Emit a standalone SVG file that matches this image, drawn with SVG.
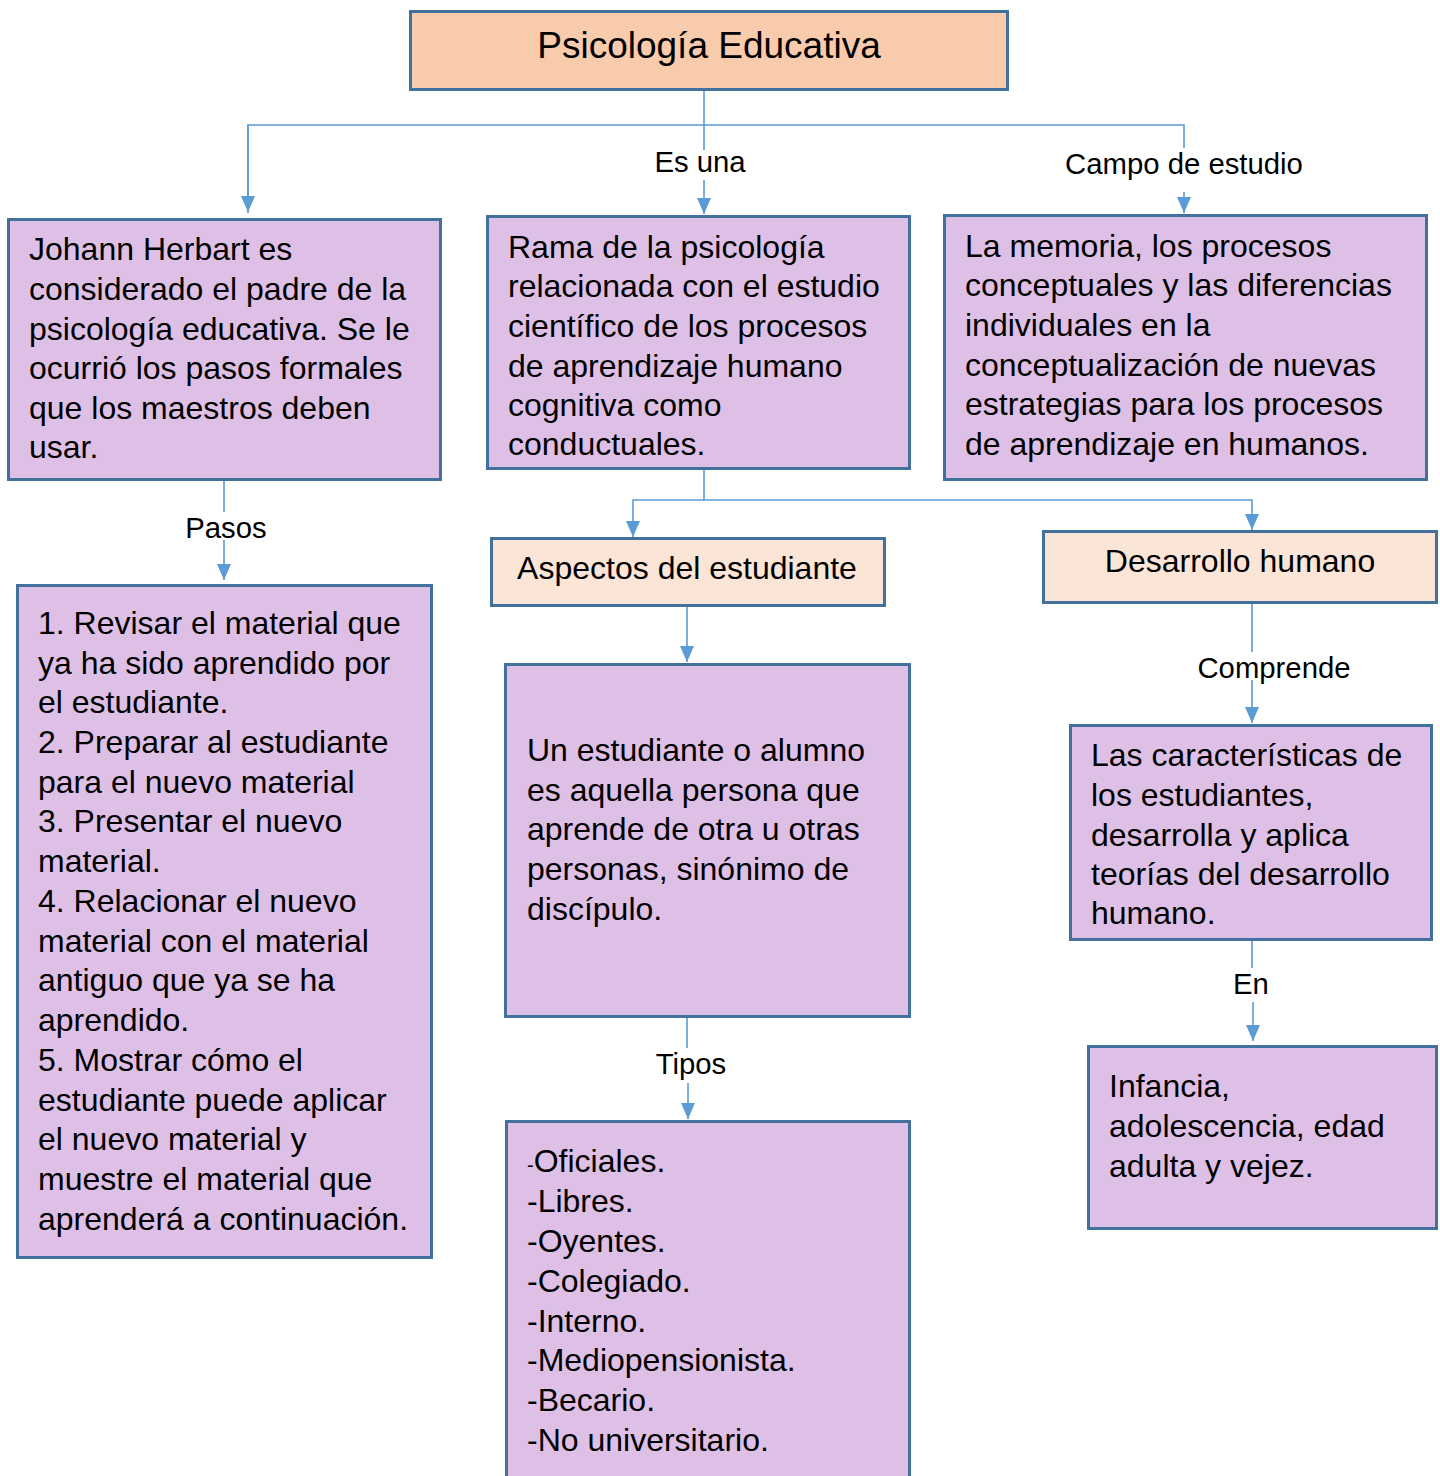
<svg xmlns="http://www.w3.org/2000/svg" width="1440" height="1476" viewBox="0 0 1440 1476">
<style>
.box{fill:#DEC0E7;stroke:#41719C;stroke-width:3}
.hdr{fill:#F8CBAD;stroke:#41719C;stroke-width:3}
.sub{fill:#FBE5D6;stroke:#41719C;stroke-width:3}
.t{font-family:"Liberation Sans",Arial,sans-serif;font-size:32px;fill:#000}
.lbl{font-family:"Liberation Sans",Arial,sans-serif;font-size:29.3px;fill:#000;text-anchor:middle}
.c{fill:none;stroke:#5B9BD5;stroke-width:1.6}
</style>
<defs>
<marker id="ah" viewBox="0 0 16 14" refX="16" refY="7" markerWidth="16" markerHeight="14" markerUnits="userSpaceOnUse" orient="auto">
<path d="M0,0 L16,7 L0,14 z" fill="#5B9BD5"/>
</marker>
</defs>
<rect width="1440" height="1476" fill="#fff"/>
<g id="connectors">
<path class="c" d="M704,89 V150"/>
<path class="c" d="M704,180 V214" marker-end="url(#ah)"/>
<path class="c" d="M248,213 V125 H1184 V148"/>
<path class="c" d="M248,125 V212" marker-end="url(#ah)"/>
<path class="c" d="M1184,192 V213" marker-end="url(#ah)"/>
<path class="c" d="M224,480 V512"/>
<path class="c" d="M224,540 V580" marker-end="url(#ah)"/>
<path class="c" d="M704,469 V500 H1252 V530" marker-end="url(#ah)"/>
<path class="c" d="M704,500 H633 V537" marker-end="url(#ah)"/>
<path class="c" d="M687,602 V662" marker-end="url(#ah)"/>
<path class="c" d="M687,1017 V1048"/>
<path class="c" d="M688,1083 V1119" marker-end="url(#ah)"/>
<path class="c" d="M1252,603 V652"/>
<path class="c" d="M1252,680 V723" marker-end="url(#ah)"/>
<path class="c" d="M1252,940 V968"/>
<path class="c" d="M1253,1002 V1041" marker-end="url(#ah)"/>
<text class="lbl" x="700" y="172">Es una</text>
<text class="lbl" x="1184" y="174">Campo de estudio</text>
<text class="lbl" x="226" y="538">Pasos</text>
<text class="lbl" x="691" y="1074">Tipos</text>
<text class="lbl" x="1274" y="678">Comprende</text>
<text class="lbl" x="1251" y="994">En</text>
</g>
<g id="n-title">
<rect class="hdr" x="410.5" y="11.5" width="597" height="78"/>
<text x="709" y="58" font-family="Liberation Sans,Arial,sans-serif" font-size="37" text-anchor="middle">Psicología Educativa</text>
</g>
<g id="n-herbart">
<rect class="box" x="8.5" y="219.5" width="432" height="260"/>
<text class="t"><tspan x="29" y="260">Johann Herbart es</tspan><tspan x="29" y="300">considerado el padre de la</tspan><tspan x="29" y="340">psicología educativa. Se le</tspan><tspan x="29" y="379">ocurrió los pasos formales</tspan><tspan x="29" y="419">que los maestros deben</tspan><tspan x="29" y="458">usar.</tspan></text>
</g>
<g id="n-rama">
<rect class="box" x="487.5" y="216.5" width="422" height="252"/>
<text class="t"><tspan x="508" y="258">Rama de la psicología</tspan><tspan x="508" y="297">relacionada con el estudio</tspan><tspan x="508" y="337">científico de los procesos</tspan><tspan x="508" y="377">de aprendizaje humano</tspan><tspan x="508" y="416">cognitiva como</tspan><tspan x="508" y="455">conductuales.</tspan></text>
</g>
<g id="n-campo">
<rect class="box" x="944.5" y="215.5" width="482" height="264"/>
<text class="t"><tspan x="965" y="257">La memoria, los procesos</tspan><tspan x="965" y="296">conceptuales y las diferencias</tspan><tspan x="965" y="336">individuales en la</tspan><tspan x="965" y="376">conceptualización de nuevas</tspan><tspan x="965" y="415">estrategias para los procesos</tspan><tspan x="965" y="455">de aprendizaje en humanos.</tspan></text>
</g>
<g id="n-pasos">
<rect class="box" x="17.5" y="585.5" width="414" height="672"/>
<text class="t"><tspan x="38" y="634">1. Revisar el material que</tspan><tspan x="38" y="674">ya ha sido aprendido por</tspan><tspan x="38" y="713">el estudiante.</tspan><tspan x="38" y="753">2. Preparar al estudiante</tspan><tspan x="38" y="793">para el nuevo material</tspan><tspan x="38" y="832">3. Presentar el nuevo</tspan><tspan x="38" y="872">material.</tspan><tspan x="38" y="912">4. Relacionar el nuevo</tspan><tspan x="38" y="952">material con el material</tspan><tspan x="38" y="991">antiguo que ya se ha</tspan><tspan x="38" y="1031">aprendido.</tspan><tspan x="38" y="1071">5. Mostrar cómo el</tspan><tspan x="38" y="1111">estudiante puede aplicar</tspan><tspan x="38" y="1150">el nuevo material y</tspan><tspan x="38" y="1190">muestre el material que</tspan><tspan x="38" y="1230">aprenderá a continuación.</tspan></text>
</g>
<g id="n-aspectos">
<rect class="sub" x="491.5" y="538.5" width="393" height="67"/>
<text x="687" y="579" font-family="Liberation Sans,Arial,sans-serif" font-size="32" text-anchor="middle">Aspectos del estudiante</text>
</g>
<g id="n-desarrollo">
<rect class="sub" x="1043.5" y="531.5" width="393" height="71"/>
<text x="1240" y="572" font-family="Liberation Sans,Arial,sans-serif" font-size="32" text-anchor="middle">Desarrollo humano</text>
</g>
<g id="n-estudiante">
<rect class="box" x="505.5" y="664.5" width="404" height="352"/>
<text class="t"><tspan x="527" y="761">Un estudiante o alumno</tspan><tspan x="527" y="801">es aquella persona que</tspan><tspan x="527" y="840">aprende de otra u otras</tspan><tspan x="527" y="880">personas, sinónimo de</tspan><tspan x="527" y="920">discípulo.</tspan></text>
</g>
<g id="n-tipos">
<rect class="box" x="506.5" y="1121.5" width="403" height="362"/>
<text class="t"><tspan x="527" y="1172"><tspan font-size="20">-</tspan>Oficiales.</tspan><tspan x="527" y="1212">-Libres.</tspan><tspan x="527" y="1252">-Oyentes.</tspan><tspan x="527" y="1292">-Colegiado.</tspan><tspan x="527" y="1332">-Interno.</tspan><tspan x="527" y="1371">-Mediopensionista.</tspan><tspan x="527" y="1411">-Becario.</tspan><tspan x="527" y="1451">-No universitario.</tspan></text>
</g>
<g id="n-caracteristicas">
<rect class="box" x="1070.5" y="725.5" width="361" height="214"/>
<text class="t"><tspan x="1091" y="766">Las características de</tspan><tspan x="1091" y="806">los estudiantes,</tspan><tspan x="1091" y="846">desarrolla y aplica</tspan><tspan x="1091" y="885">teorías del desarrollo</tspan><tspan x="1091" y="924">humano.</tspan></text>
</g>
<g id="n-etapas">
<rect class="box" x="1088.5" y="1046.5" width="348" height="182"/>
<text class="t"><tspan x="1109" y="1097">Infancia,</tspan><tspan x="1109" y="1137">adolescencia, edad</tspan><tspan x="1109" y="1177">adulta y vejez.</tspan></text>
</g>
</svg>
